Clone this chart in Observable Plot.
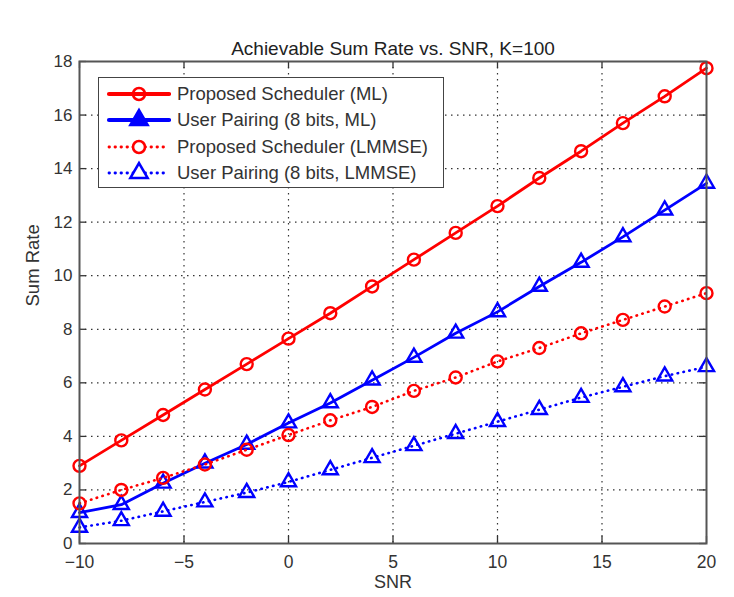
<!DOCTYPE html>
<html>
<head>
<meta charset="utf-8">
<script src="https://cdn.jsdelivr.net/npm/d3@7"></script>
<script src="https://cdn.jsdelivr.net/npm/@observablehq/plot@0.6"></script>
<style>
  html, body { margin: 0; padding: 0; background: #fff; }
  #wrap { position: relative; width: 734px; height: 597px; font-family: "Liberation Sans", Arial, Helvetica, sans-serif; }
  #legend { position: absolute; left: 98px; top: 77px; width: 346px; height: 111px; border: 1.5px solid #444; background: #fff; box-sizing: border-box; }
  .row { position: absolute; left: 0; height: 26px; display: flex; align-items: center; }
  .row span { font-size: 18.5px; color: #333; margin-left: 6px; white-space: nowrap; }
</style>
</head>
<body>
<div id="wrap"></div>
<script>
const snr = [-10, -8, -6, -4, -2, 0, 2, 4, 6, 8, 10, 12, 14, 16, 18, 20];
const proposedML = [2.9, 3.85, 4.8, 5.75, 6.7, 7.65, 8.6, 9.6, 10.6, 11.6, 12.6, 13.65, 14.65, 15.7, 16.7, 17.75];
const pairingML = [1.15, 1.45, 2.25, 3.0, 3.7, 4.5, 5.25, 6.1, 6.95, 7.85, 8.65, 9.6, 10.5, 11.45, 12.45, 13.45];
const proposedLMMSE = [1.5, 2.0, 2.45, 2.95, 3.5, 4.05, 4.6, 5.1, 5.7, 6.2, 6.8, 7.3, 7.85, 8.35, 8.85, 9.35];
const pairingLMMSE = [0.6, 0.85, 1.2, 1.55, 1.9, 2.3, 2.75, 3.2, 3.65, 4.1, 4.55, 5.0, 5.45, 5.85, 6.25, 6.6];
const seriesNames = ["Proposed Scheduler (ML)", "User Pairing (8 bits, ML)", "Proposed Scheduler (LMMSE)", "User Pairing (8 bits, LMMSE)"];
const xTicks = [-10, -5, 0, 5, 10, 15, 20];
const yTicks = [0, 2, 4, 6, 8, 10, 12, 14, 16, 18];
const titleText = "Achievable Sum Rate vs. SNR, K=100";
const xLabel = "SNR";
const yLabel = "Sum Rate";

const W = 734, H = 597;
const mL = 79, mR = 28, mT = 61, mB = 54;
const fw = W - mL - mR, fh = H - mT - mB;
const tickLen = 7;

const styles = [
  {stroke: "#ff0000", dash: null, symbol: "circle", vals: proposedML, r: 6},
  {stroke: "#0000ff", dash: null, symbol: "triangle", vals: pairingML, r: 5.6},
  {stroke: "#ff0000", dash: "0.5,5.5", symbol: "circle", vals: proposedLMMSE, r: 6},
  {stroke: "#0000ff", dash: "0.5,5.5", symbol: "triangle", vals: pairingLMMSE, r: 5.6}
];

const innerX = xTicks.slice(1, -1);
const innerY = yTicks.slice(1, -1);

const marks = [
  Plot.gridX(innerX, {stroke: "#000", strokeOpacity: 0.8, strokeWidth: 1.2, strokeDasharray: "1.5,4.5"}),
  Plot.gridY(innerY, {stroke: "#000", strokeOpacity: 0.8, strokeWidth: 1.2, strokeDasharray: "1.5,4.5"}),
  // inward ticks
  Plot.tickX(xTicks, {x: d => d, stroke: "#333", strokeWidth: 1.3, insetTop: fh - tickLen}),
  Plot.tickX(xTicks, {x: d => d, stroke: "#333", strokeWidth: 1.3, insetBottom: fh - tickLen}),
  Plot.tickY(yTicks, {y: d => d, stroke: "#333", strokeWidth: 1.3, insetRight: fw - tickLen}),
  Plot.tickY(yTicks, {y: d => d, stroke: "#333", strokeWidth: 1.3, insetLeft: fw - tickLen}),
];

styles.forEach(s => {
  const data = snr.map((x, i) => ({x, y: s.vals[i]}));
  marks.push(Plot.line(data, {x: "x", y: "y", stroke: s.stroke, strokeWidth: s.dash ? 2.6 : 2.8, strokeDasharray: s.dash, strokeLinecap: "round"}));
  marks.push(Plot.dot(data, {x: "x", y: "y", symbol: s.symbol, r: s.r, stroke: s.stroke, strokeWidth: 2.4, fill: "none"}));
});

marks.push(
  Plot.frame({stroke: "#555", strokeWidth: 2}),
  Plot.axisX(xTicks, {tickSize: 0, tickPadding: 12, fontSize: 17.5, fill: "#333", label: null}),
  Plot.axisY(yTicks, {tickSize: 0, tickPadding: 7, fontSize: 17, fill: "#333", label: null}),
  Plot.text([titleText], {frameAnchor: "top", dy: -20, fontSize: 19, fill: "#222"}),
  Plot.text([xLabel], {frameAnchor: "bottom", dy: 44, fontSize: 18, fill: "#333"}),
  Plot.text([yLabel], {frameAnchor: "left", dx: -46, dy: 4, rotate: -90, fontSize: 18.5, fill: "#333"})
);

const chart = Plot.plot({
  width: W, height: H,
  marginLeft: mL, marginRight: mR, marginTop: mT, marginBottom: mB,
  style: {fontFamily: "'Liberation Sans', Arial, Helvetica, sans-serif", background: "#fff"},
  x: {domain: [-10, 20]},
  y: {domain: [0, 18]},
  marks
});

const wrap = document.getElementById("wrap");
wrap.appendChild(chart);

// legend
const legend = document.createElement("div");
legend.id = "legend";
styles.forEach((s, i) => {
  const row = document.createElement("div");
  row.className = "row";
  row.style.top = (3 + i * 26.3) + "px";
  const svgNS = "http://www.w3.org/2000/svg";
  const sv = document.createElementNS(svgNS, "svg");
  sv.setAttribute("width", "72"); sv.setAttribute("height", "26");
  const ln = document.createElementNS(svgNS, "line");
  ln.setAttribute("x1", "10"); ln.setAttribute("x2", "70");
  ln.setAttribute("y1", "13"); ln.setAttribute("y2", "13");
  ln.setAttribute("stroke", s.stroke);
  ln.setAttribute("stroke-width", s.dash ? "2.8" : "4.2");
  ln.setAttribute("stroke-linecap", "round");
  if (s.dash) ln.setAttribute("stroke-dasharray", s.dash);
  sv.appendChild(ln);
  const sym = (s.symbol === "circle" ? d3.symbolCircle : d3.symbolTriangle);
  const p = document.createElementNS(svgNS, "path");
  const area = Math.PI * s.r * s.r * (s.symbol === "circle" ? 1 : 1.3);
  p.setAttribute("d", d3.symbol(sym, area)());
  p.setAttribute("transform", "translate(40,13)");
  p.setAttribute("stroke", s.stroke);
  p.setAttribute("stroke-width", "2.6");
  p.setAttribute("fill", s.symbol === "triangle" && !s.dash ? s.stroke : (s.dash ? "#fff" : "none"));
  sv.appendChild(p);
  row.appendChild(sv);
  const t = document.createElement("span");
  t.textContent = seriesNames[i];
  row.appendChild(t);
  legend.appendChild(row);
});
wrap.appendChild(legend);
</script>
</body>
</html>
